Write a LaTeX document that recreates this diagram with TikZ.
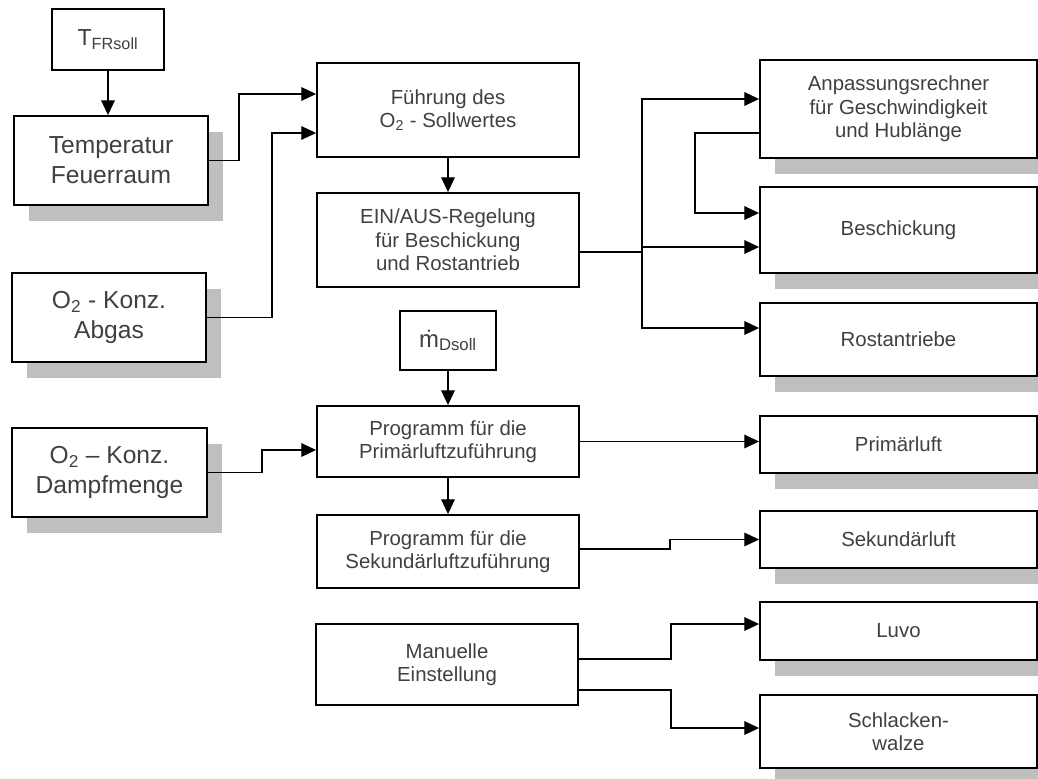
\documentclass[tikz,border=0pt]{standalone}
\usepackage{fontspec}
\setmainfont{Liberation Sans}
\usetikzlibrary{arrows.meta,shadows}
\begin{document}
\begin{tikzpicture}
    [inner sep=0pt,
     box/.style={draw,line width=1.3pt,fill=white,align=center,text=black!75,
       font=\fontsize{14.5}{16.7}\selectfont},
     bigbox/.style={box,font=\fontsize{17.5}{21.3}\selectfont},
     shadowbox/.style={drop shadow={shadow xshift=0.375cm,shadow yshift=-0.4cm,
       fill=black!25,opacity=1}},
     arr/.style={line width=1pt,-{Triangle[length=0.37cm,width=0.34cm]}}]
    \useasboundingbox (0,0) rectangle (25.95,-19.45);
    % left column
    \node (tfrsoll) at (2.7, -0.99) [box,minimum width=2.8cm,minimum height=1.525cm,
      font=\fontsize{16.5}{18}\selectfont] {T\textsubscript{FRsoll}};
    \node (temp) at (2.775, -4.0125) [bigbox,shadowbox,minimum width=4.85cm,minimum height=2.225cm]
      {Temperatur\\Feuerraum};
    \node (abgas) at (2.725, -7.9375) [bigbox,shadowbox,minimum width=4.85cm,minimum height=2.225cm]
      {O\textsubscript{2} - Konz.\\Abgas};
    \node (dampf) at (2.7375, -11.8125) [bigbox,shadowbox,minimum width=4.875cm,minimum height=2.225cm]
      {O\textsubscript{2} -- Konz.\\Dampfmenge};
    % middle column
    \node (fuehrung) at (11.2, -2.75) [box,minimum width=6.55cm,minimum height=2.35cm]
      {Führung des\\O\textsubscript{2} - Sollwertes};
    \node (einaus) at (11.2, -6.0) [box,minimum width=6.55cm,minimum height=2.35cm]
      {EIN/AUS-Regelung\\für Beschickung\\und Rostantrieb};
    \node (mdsoll) at (11.2, -8.5125) [box,minimum width=2.4cm,minimum height=1.475cm,
      font=\fontsize{17}{18}\selectfont] {\.{m}\textsubscript{Dsoll}};
    \node (primprog) at (11.2, -11.0375) [box,minimum width=6.55cm,minimum height=1.775cm]
      {Programm für die\\Primärluftzuführung};
    \node (sekprog) at (11.2, -13.7875) [box,minimum width=6.55cm,minimum height=1.825cm]
      {Programm für die\\Sekundärluftzuführung};
    \node (manuell) at (11.175, -16.6125) [box,minimum width=6.55cm,minimum height=2.025cm]
      {Manuelle\\Einstellung};
    % right column
    \node (anpass) at (22.4625, -2.725) [box,shadowbox,minimum width=6.925cm,minimum height=2.45cm]
      {Anpassungsrechner\\für Geschwindigkeit\\und Hublänge};
    \node (besch) at (22.4625, -5.75) [box,shadowbox,minimum width=6.925cm,minimum height=2.15cm]
      {Beschickung};
    \node (rost) at (22.4625, -8.4875) [box,shadowbox,minimum width=6.925cm,minimum height=1.825cm]
      {Rostantriebe};
    \node (primluft) at (22.4625, -11.1125) [box,shadowbox,minimum width=6.925cm,minimum height=1.425cm]
      {Primärluft};
    \node (sekluft) at (22.4625, -13.4875) [box,shadowbox,minimum width=6.925cm,minimum height=1.425cm]
      {Sekundärluft};
    \node (luvo) at (22.4625, -15.775) [box,shadowbox,minimum width=6.925cm,minimum height=1.45cm]
      {Luvo};
    \node (schlacke) at (22.4625, -18.2875) [box,shadowbox,minimum width=6.925cm,minimum height=1.825cm]
      {Schlacken-\\walze};
    \coordinate (branch) at (16.05, -6.3);
    \coordinate (besin) at ([yshift=-0.425cm]besch.west);
    % connectors
    \draw [arr] (tfrsoll.south) to (tfrsoll.south |- temp.north);
    \draw [arr] (temp.east) -- ++(0.75,0) |- ([yshift=0.4cm]fuehrung.west);
    \draw [arr] (abgas.east) -- ++(1.625,0) |- ([yshift=-0.575cm]fuehrung.west);
    \draw [arr] (dampf.east) -- ++(1.35,0) |- ([yshift=-0.2125cm]primprog.west);
    \draw [arr] (fuehrung.south) to (einaus.north);
    \draw [arr] (mdsoll.south) to (primprog.north);
    \draw [arr] (primprog.south) to (sekprog.north);
    \draw [arr] (primprog.east) to (primprog.east -| primluft.west);
    \draw [arr] ([yshift=0.0625cm]sekprog.east) -- ++(2.25,0) |- (sekluft.west);
    \draw [line width=1pt] ([yshift=-0.3cm]einaus.east) -- (branch);
    \draw [arr] (branch) |- ([yshift=0.25cm]anpass.west);
    \draw [arr] (besin -| branch) -- (besin);
    \draw [arr] (branch) |- ([yshift=0.2875cm]rost.west);
    \draw [arr] ([yshift=-0.6cm]anpass.west) -- ++(-1.6,0) |- ([yshift=0.425cm]besch.west);
    \draw [arr] ([yshift=0.1375cm]manuell.east) -- ++(2.3,0) |- ([yshift=0.175cm]luvo.west);
    \draw [arr] ([yshift=-0.6375cm]manuell.east) -- ++(2.3,0) |- ([yshift=0.0875cm]schlacke.west);
  \end{tikzpicture}
\end{document}
